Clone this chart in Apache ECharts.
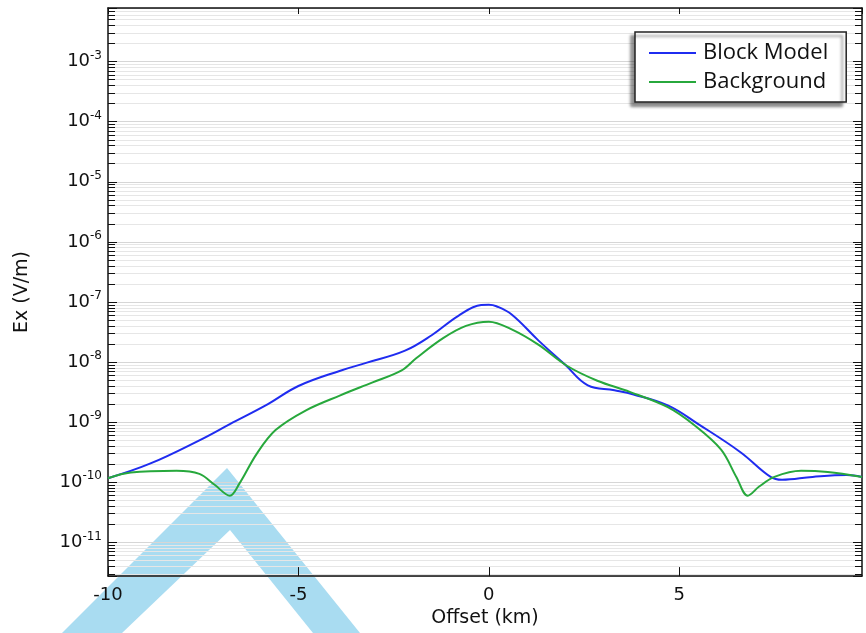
<!DOCTYPE html>
<html>
<head>
<meta charset="utf-8">
<script src="https://cdn.jsdelivr.net/npm/echarts@6/dist/echarts.min.js"></script>
<style>
  html, body { margin: 0; padding: 0; background: #fff; }
  #box { width: 866px; height: 633px; }
</style>
</head>
<body>
<div id="box"></div>
<script>
// 数据: Offset (km) / Ex (V/m)
var blockX = [-10, -8.9, -7.6, -6.8, -5.8, -5.0, -3.9, -3.2, -2.2, -1.5, -0.8, -0.2, 0, 0.2, 0.6, 1.3, 2.0, 2.6, 3.3, 3.8, 4.7, 5.5, 6.6, 7.4, 7.7, 8.5, 9.4, 9.8];
var blockY = [1.17e-10, 2.04e-10, 5.0e-10, 9.3e-10, 2.0e-9, 4.0e-9, 7.2e-9, 9.8e-9, 1.55e-8, 2.8e-8, 5.9e-8, 8.9e-8, 9.0e-8, 8.5e-8, 6.2e-8, 2.3e-8, 9.1e-9, 4.1e-9, 3.4e-9, 2.9e-9, 1.9e-9, 9.3e-10, 3.2e-10, 1.23e-10, 1.10e-10, 1.23e-10, 1.32e-10, 1.23e-10];
var bgX = [-10, -9.4, -8.2, -7.6, -7.2, -6.8, -6.55, -6.1, -5.6, -4.8, -3.9, -3.05, -2.3, -1.9, -1.2, -0.6, 0, 0.6, 1.3, 2.05, 2.85, 3.7, 4.7, 5.4, 6.1, 6.5, 6.8, 7.1, 7.5, 8.2, 8.9, 9.8];
var bgY = [1.17e-10, 1.45e-10, 1.55e-10, 1.38e-10, 9.1e-11, 6.0e-11, 9.5e-11, 2.95e-10, 7.4e-10, 1.58e-9, 2.8e-9, 4.6e-9, 7.2e-9, 1.17e-8, 2.5e-8, 4.0e-8, 4.7e-8, 3.5e-8, 1.95e-8, 8.7e-9, 4.9e-9, 3.2e-9, 1.78e-9, 8.9e-10, 3.5e-10, 1.23e-10, 6.0e-11, 8.5e-11, 1.23e-10, 1.55e-10, 1.48e-10, 1.23e-10];
var seriesNames = ['Block Model', 'Background'];
var xTicks = [-10, -5, 0, 5];

function pairs(xs, ys) {
    var out = [];
    for (var i = 0; i < xs.length; i++) out.push([xs[i], ys[i]]);
    return out;
}

function logLabel(v) {
    var e = Math.log(v) / Math.LN10;
    var r = Math.round(e);
    if (Math.abs(e - r) > 0.01) return '';
    return '{b|10}{s|' + r + '}';
}

var font = 'DejaVu Sans';
var yMin = 2.75e-12, yMax = 7.8e-3;

var myChart = echarts.init(document.getElementById('box'));
var option = {
    backgroundColor: '#fff',
    animation: false,
    graphic: [{
        type: 'polygon',
        z: -10,
        silent: true,
        shape: { points: [[62, 633], [227, 468], [360, 633], [313, 633], [230, 530], [122, 633]] },
        style: { fill: '#a9dcf1' }
    }],
    grid: { left: 108, right: 4, top: 8, bottom: 53 },
    legend: {
        data: seriesNames,
        orient: 'vertical',
        left: 635,
        top: 32,
        padding: [10, 18, 9, 14],
        itemGap: 7,
        itemWidth: 47,
        itemHeight: 2,
        icon: 'rect',
        backgroundColor: '#fff',
        borderColor: '#222',
        borderWidth: 1.5,
        borderRadius: 0,
        shadowColor: 'rgba(0,0,0,0.45)',
        shadowBlur: 3,
        shadowOffsetX: -4,
        shadowOffsetY: 4,
        textStyle: { fontFamily: 'Open Sans', fontSize: 22, color: '#111', padding: [0, 0, 0, 2] }
    },
    xAxis: [{
        type: 'value',
        min: -10,
        max: 9.8,
        interval: 5,
        name: 'Offset (km)',
        nameLocation: 'middle',
        nameGap: 27,
        nameTextStyle: { fontFamily: font, fontSize: 19, color: '#111' },
        axisLine: { onZero: false, lineStyle: { color: '#111', width: 1.5 } },
        axisTick: { inside: true, length: 9, lineStyle: { color: '#111' } },
        axisLabel: {
            margin: 10,
            fontFamily: font, fontSize: 18, color: '#111',
            showMaxLabel: false,
            formatter: function(v) { return xTicks.indexOf(v) >= 0 ? String(v) : ''; }
        },
        splitLine: { show: false }
    }, {
        type: 'value',
        position: 'top',
        min: -10,
        max: 9.8,
        interval: 5,
        axisLine: { onZero: false, lineStyle: { color: '#111', width: 1.5 } },
        axisTick: { inside: true, length: 6, lineStyle: { color: '#111' } },
        axisLabel: { show: false },
        splitLine: { show: false }
    }],
    yAxis: [{
        type: 'log',
        logBase: 10,
        min: yMin,
        max: yMax,
        splitNumber: 10,
        name: 'Ex (V/m)',
        nameLocation: 'middle',
        nameGap: 76,
        nameTextStyle: { fontFamily: font, fontSize: 19, color: '#111' },
        axisLine: { show: true, onZero: false, lineStyle: { color: '#111', width: 1.5 } },
        axisTick: { inside: true, length: 9, lineStyle: { color: '#111' } },
        minorTick: { show: true, splitNumber: 9, length: 7, lineStyle: { color: '#111' } },
        axisLabel: {
            margin: 6,
            color: '#111',
            formatter: logLabel,
            rich: {
                b: { fontFamily: font, fontSize: 18, color: '#111' },
                s: { fontFamily: font, fontSize: 12, color: '#111', padding: [0, 0, 12, 0] }
            }
        },
        splitLine: { show: true, lineStyle: { color: '#d6d6d6', width: 1 } },
        minorSplitLine: { show: true, lineStyle: { color: '#e6e6e6', width: 1 } }
    }, {
        type: 'log',
        logBase: 10,
        min: yMin,
        max: yMax,
        splitNumber: 10,
        position: 'right',
        axisLine: { show: true, onZero: false, lineStyle: { color: '#111', width: 1.5 } },
        axisTick: { inside: true, length: 9, lineStyle: { color: '#111' } },
        minorTick: { show: true, splitNumber: 9, length: 7, lineStyle: { color: '#111' } },
        axisLabel: { show: false },
        splitLine: { show: false }
    }],
    series: [{
        name: seriesNames[0],
        type: 'line',
        data: pairs(blockX, blockY),
        showSymbol: false,
        smooth: 0.4,
        lineStyle: { color: '#1f2cf0', width: 2 },
        itemStyle: { color: '#1f2cf0' },
        z: 3
    }, {
        name: seriesNames[1],
        type: 'line',
        data: pairs(bgX, bgY),
        showSymbol: false,
        smooth: 0.35,
        lineStyle: { color: '#27a83c', width: 2 },
        itemStyle: { color: '#27a83c' },
        z: 4
    }]
};
myChart.setOption(option);
</script>
</body>
</html>
